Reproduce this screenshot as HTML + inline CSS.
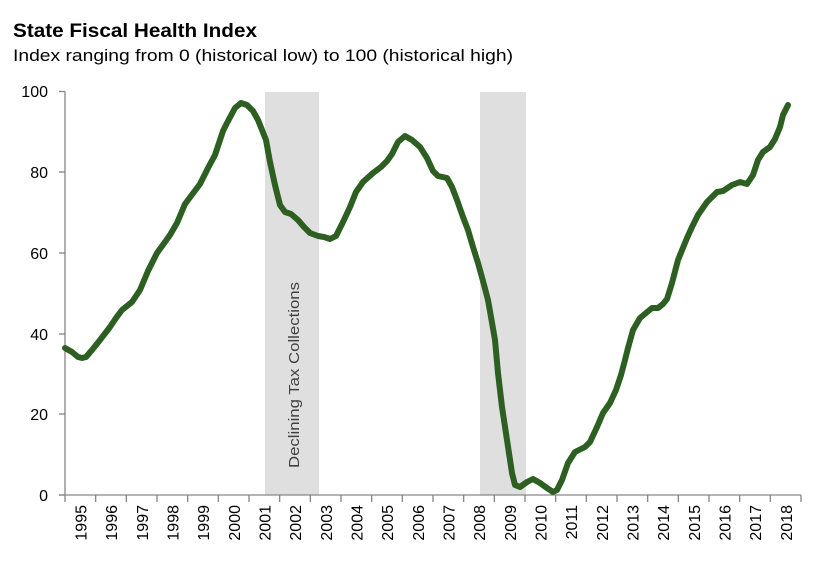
<!DOCTYPE html>
<html>
<head>
<meta charset="utf-8">
<style>
  html, body { margin: 0; padding: 0; background: #ffffff; }
  svg { display: block; }
  text { font-family: "Liberation Sans", "DejaVu Sans", sans-serif; }
</style>
</head>
<body>
<svg width="825" height="569" viewBox="0 0 825 569" xmlns="http://www.w3.org/2000/svg">
  <rect x="0" y="0" width="825" height="569" fill="#ffffff"/>

  <!-- Title -->
  <text x="13" y="37" font-size="19" font-weight="bold" fill="#000" textLength="244" lengthAdjust="spacingAndGlyphs">State Fiscal Health Index</text>
  <text x="13" y="61" font-size="16.5" fill="#000" textLength="500" lengthAdjust="spacingAndGlyphs">Index ranging from 0 (historical low) to 100 (historical high)</text>

  <!-- Recession bands -->
  <rect x="265" y="92" width="54" height="403" fill="#dfdfdf"/>
  <rect x="480" y="92" width="46" height="403" fill="#dfdfdf"/>

  <!-- Band label -->
  <text transform="translate(299,468) rotate(-90)" font-size="15" fill="#404040" textLength="186" lengthAdjust="spacingAndGlyphs">Declining Tax Collections</text>

  <!-- Axes -->
  <g stroke="#868686" stroke-width="1.3" fill="none">
    <line x1="65" y1="91.5" x2="65" y2="495"/>
    <line x1="59" y1="91.5" x2="65" y2="91.5"/>
    <line x1="59" y1="172" x2="65" y2="172"/>
    <line x1="59" y1="253" x2="65" y2="253"/>
    <line x1="59" y1="334" x2="65" y2="334"/>
    <line x1="59" y1="414" x2="65" y2="414"/>
    <line x1="59" y1="495" x2="65" y2="495"/>
    <line x1="59" y1="495" x2="801" y2="495"/>
  </g>

  <g font-size="16" fill="#000" text-anchor="end">
    <text x="48" y="97">100</text>
    <text x="48" y="178">80</text>
    <text x="48" y="259">60</text>
    <text x="48" y="340">40</text>
    <text x="48" y="420">20</text>
    <text x="48" y="501">0</text>
  </g>

  <!-- X ticks -->
  <g stroke="#868686" stroke-width="1.3">
    <line x1="65" y1="495" x2="65" y2="502"/>
    <line x1="95.67" y1="495" x2="95.67" y2="502"/>
    <line x1="126.33" y1="495" x2="126.33" y2="502"/>
    <line x1="157" y1="495" x2="157" y2="502"/>
    <line x1="187.67" y1="495" x2="187.67" y2="502"/>
    <line x1="218.33" y1="495" x2="218.33" y2="502"/>
    <line x1="249" y1="495" x2="249" y2="502"/>
    <line x1="279.67" y1="495" x2="279.67" y2="502"/>
    <line x1="310.33" y1="495" x2="310.33" y2="502"/>
    <line x1="341" y1="495" x2="341" y2="502"/>
    <line x1="371.67" y1="495" x2="371.67" y2="502"/>
    <line x1="402.33" y1="495" x2="402.33" y2="502"/>
    <line x1="433" y1="495" x2="433" y2="502"/>
    <line x1="463.67" y1="495" x2="463.67" y2="502"/>
    <line x1="494.33" y1="495" x2="494.33" y2="502"/>
    <line x1="525" y1="495" x2="525" y2="502"/>
    <line x1="555.67" y1="495" x2="555.67" y2="502"/>
    <line x1="586.33" y1="495" x2="586.33" y2="502"/>
    <line x1="617" y1="495" x2="617" y2="502"/>
    <line x1="647.67" y1="495" x2="647.67" y2="502"/>
    <line x1="678.33" y1="495" x2="678.33" y2="502"/>
    <line x1="709" y1="495" x2="709" y2="502"/>
    <line x1="739.67" y1="495" x2="739.67" y2="502"/>
    <line x1="770.33" y1="495" x2="770.33" y2="502"/>
    <line x1="801" y1="495" x2="801" y2="502"/>
  </g>

  <!-- X labels (rotated) -->
  <g font-size="16" fill="#000" text-anchor="end">
    <text transform="translate(86.5,505) rotate(-90)">1995</text>
    <text transform="translate(117.2,505) rotate(-90)">1996</text>
    <text transform="translate(147.8,505) rotate(-90)">1997</text>
    <text transform="translate(178.5,505) rotate(-90)">1998</text>
    <text transform="translate(209.2,505) rotate(-90)">1999</text>
    <text transform="translate(239.8,505) rotate(-90)">2000</text>
    <text transform="translate(270.5,505) rotate(-90)">2001</text>
    <text transform="translate(301.2,505) rotate(-90)">2002</text>
    <text transform="translate(331.8,505) rotate(-90)">2003</text>
    <text transform="translate(362.5,505) rotate(-90)">2004</text>
    <text transform="translate(393.2,505) rotate(-90)">2005</text>
    <text transform="translate(423.8,505) rotate(-90)">2006</text>
    <text transform="translate(454.5,505) rotate(-90)">2007</text>
    <text transform="translate(485.2,505) rotate(-90)">2008</text>
    <text transform="translate(515.8,505) rotate(-90)">2009</text>
    <text transform="translate(546.5,505) rotate(-90)">2010</text>
    <text transform="translate(577.2,505) rotate(-90)">2011</text>
    <text transform="translate(607.8,505) rotate(-90)">2012</text>
    <text transform="translate(638.5,505) rotate(-90)">2013</text>
    <text transform="translate(669.2,505) rotate(-90)">2014</text>
    <text transform="translate(699.8,505) rotate(-90)">2015</text>
    <text transform="translate(730.5,505) rotate(-90)">2016</text>
    <text transform="translate(761.2,505) rotate(-90)">2017</text>
    <text transform="translate(791.8,505) rotate(-90)">2018</text>
  </g>

  <!-- Data line -->
  <polyline fill="none" stroke="#2e5f22" stroke-width="6" stroke-linejoin="round" stroke-linecap="round"
    points="65,348 72,352 78,357 82,358 86,357 92,350 100,340 110,327 116,318 122,310 132,302 140,290 148,271 157,253 165,242 170,235 177,223 185,204 191,196 200,184 208,168 215,155 223,131 227,123 235,108 241,103 247,105 253,111 258,120 262,130 266,140 270,162 275,185 280,205 285,212 291,214 298,220 304,227 310,233 318,236 324,237 330,239 336,236 343,222 350,207 356,192 363,182 373,173 381,167 387,161 392,154 398,142 405,136 412,140 420,147 427,158 433,171 438,176 447,178 452,187 457,200 463,217 468,230 473,247 478,263 483,281 488,300 491,317 495,340 498,373 502,407 507,440 512,473 515,485 520,487 527,482 533,479 540,483 547,488 553,492 557,490 562,480 568,463 575,452 585,447 590,442 597,427 603,413 610,403 616,390 621,375 625,360 628,348 633,330 640,318 646,313 652,308 658,308 663,304 667,299 672,283 678,260 687,238 692,227 698,215 707,202 717,192 723,191 732,185 740,182 747,184 753,175 758,160 763,152 770,147 775,139 780,127 783,115 788,105"/>
</svg>
</body>
</html>
